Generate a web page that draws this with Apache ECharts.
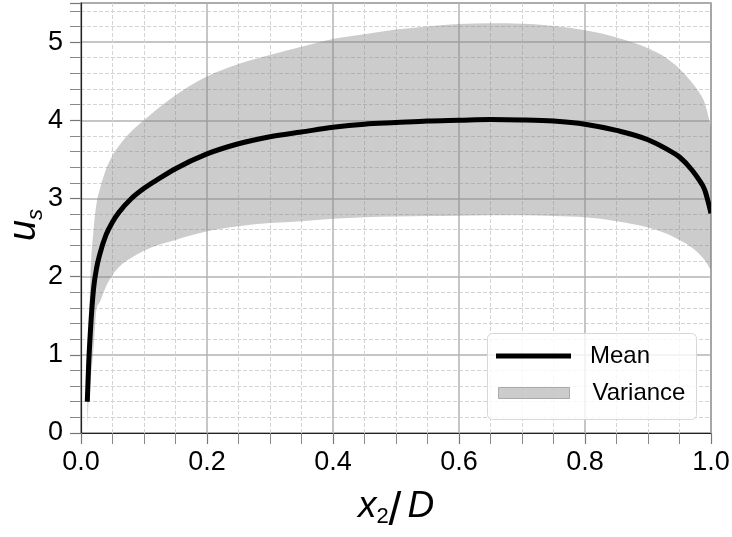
<!DOCTYPE html>
<html>
<head>
<meta charset="utf-8">
<script src="https://cdn.jsdelivr.net/npm/echarts@6/dist/echarts.min.js"></script>
<style>html,body{margin:0;padding:0;background:#fff;}#c{width:732px;height:537px;}</style>
</head>
<body>
<div id="c"></div>
<script>
// x2/D positions
const xs = [0.010,0.012,0.015,0.020,0.025,0.030,0.040,0.050,0.060,0.080,0.100,0.125,0.150,0.200,0.250,0.300,0.350,0.400,0.450,0.500,0.550,0.600,0.650,0.700,0.750,0.800,0.850,0.900,0.930,0.950,0.970,0.980,0.990,1.000];
// mean u_s
const meanVals = [0.40,0.85,1.31,1.85,2.12,2.29,2.54,2.70,2.82,3.00,3.13,3.26,3.38,3.57,3.70,3.79,3.85,3.91,3.95,3.97,3.99,4.00,4.01,4.005,3.99,3.95,3.87,3.75,3.63,3.53,3.36,3.25,3.11,2.81];
// variance band upper / lower edges
const upperVals = [0.70,1.20,2.00,2.60,2.95,3.12,3.38,3.55,3.67,3.86,4.00,4.17,4.32,4.56,4.72,4.835,4.94,5.04,5.10,5.16,5.20,5.23,5.24,5.235,5.205,5.15,5.06,4.92,4.79,4.66,4.48,4.37,4.22,3.90];
const lowerVals = [0.05,0.40,0.65,1.10,1.60,1.68,1.88,2.02,2.12,2.24,2.33,2.41,2.47,2.58,2.645,2.685,2.71,2.74,2.76,2.77,2.775,2.78,2.785,2.785,2.775,2.76,2.71,2.63,2.55,2.47,2.37,2.30,2.21,2.08];
const xTicks = [0.0,0.2,0.4,0.6,0.8,1.0];
const yTicks = [0,1,2,3,4,5];
const legendNames = ['Mean','Variance'];

const FONT = "'Liberation Sans', Arial, sans-serif";
const bandColor = 'rgba(128,128,128,0.4)';

// monotone cubic (pixel space) segments through points
function monoSegments(p) {
  const n = p.length, m = new Array(n);
  const h = [], s = [];
  for (let i = 0; i < n - 1; i++) { h[i] = p[i+1][0] - p[i][0]; s[i] = (p[i+1][1] - p[i][1]) / h[i]; }
  for (let i = 1; i < n - 1; i++) {
    const pp = (s[i-1] * h[i] + s[i] * h[i-1]) / (h[i-1] + h[i]);
    m[i] = (Math.sign(s[i-1]) + Math.sign(s[i])) * Math.min(Math.abs(s[i-1]), Math.abs(s[i]), 0.5 * Math.abs(pp)) || 0;
  }
  m[0] = (3 * s[0] - m[1]) / 2;
  m[n-1] = (3 * s[n-2] - m[n-2]) / 2;
  const segs = [];
  for (let i = 0; i < n - 1; i++) {
    const d = h[i] / 3;
    segs.push([p[i], [p[i][0] + d, p[i][1] + m[i] * d], [p[i+1][0] - d, p[i+1][1] - m[i+1] * d], p[i+1]]);
  }
  return segs;
}
const f = v => v.toFixed(2);

const chart = echarts.init(document.getElementById('c'), null, {renderer:'canvas'});
const bandData = xs.map((x,i) => [x, lowerVals[i], upperVals[i]]);
const meanData = xs.map((x,i) => [x, meanVals[i]]);
const option = {
  animation: false,
  backgroundColor: '#fff',
  grid: {left: 81, right: 21, top: 3, bottom: 104, show: true, borderColor: '#333', borderWidth: 1.2, outerBoundsMode: 'none', containLabel: false},
  xAxis: {
    type: 'value', min: xTicks[0], max: xTicks[xTicks.length-1], interval: 0.2,
    name: '{i|x}{sub|2}{n|/}{i|D}', nameLocation: 'middle', nameGap: 55, nameMoveOverlap: false,
    nameTextStyle: {rich: {
      i: {fontFamily: FONT, fontStyle: 'italic', fontSize: 37, color: '#000', verticalAlign: 'bottom', padding: [0,0,10,0]},
      sub: {fontFamily: FONT, fontSize: 22, color: '#000', verticalAlign: 'bottom', padding: [0,0,7,0]},
      n: {fontFamily: FONT, fontSize: 46, color: '#000', verticalAlign: 'bottom', padding: [0,6,0,0]}
    }},
    axisLine: {show: true, lineStyle: {color: '#222', width: 1.2}},
    axisTick: {show: true, inside: false, length: 11, lineStyle: {color: '#777', width: 1.2}},
    minorTick: {show: true, splitNumber: 4, length: 11, lineStyle: {color: '#888', width: 1}},
    axisLabel: {show: true, fontFamily: FONT, fontSize: 27, color: '#000', margin: 16, showMaxLabel: true, showMinLabel: true, formatter: v => v.toFixed(1)},
    splitLine: {show: true, lineStyle: {color: '#b3b3b3', width: 1.5}},
    minorSplitLine: {show: true, lineStyle: {color: '#d4d4d4', width: 1, type: [4,2]}}
  },
  yAxis: {
    type: 'value', min: 0, max: 5.5, interval: 1,
    name: '{u|u}{s|s}', nameLocation: 'middle', nameGap: 34, nameRotate: 90, nameMoveOverlap: false,
    nameTextStyle: {rich: {
      u: {fontFamily: FONT, fontStyle: 'italic', fontSize: 38, color: '#000', verticalAlign: 'bottom', padding: [0,0,4,0]},
      s: {fontFamily: FONT, fontStyle: 'italic', fontSize: 22, color: '#000', verticalAlign: 'bottom', padding: [0,14,0,0]}
    }},
    axisLine: {show: true, lineStyle: {color: '#222', width: 1.2}},
    axisTick: {show: true, inside: false, length: 11, lineStyle: {color: '#777', width: 1.2}},
    minorTick: {show: true, splitNumber: 5, length: 11, lineStyle: {color: '#888', width: 1}},
    axisLabel: {show: true, fontFamily: FONT, fontSize: 27, color: '#000', margin: 18, showMaxLabel: false, formatter: v => (yTicks.indexOf(v) >= 0 ? String(v) : '')},
    splitLine: {show: true, lineStyle: {color: '#b3b3b3', width: 1.5}},
    minorSplitLine: {show: true, lineStyle: {color: '#d4d4d4', width: 1, type: [4,2]}}
  },
  graphic: [{
    type: 'rect', left: 487, top: 333, z: 3,
    shape: {width: 209, height: 86, r: 5},
    style: {fill: 'rgba(255,255,255,0.8)', stroke: '#d8d8d8', lineWidth: 1}
  }],
  legend: [
    {data: [{name: legendNames[0], icon: 'rect', itemStyle: {color: '#000'}}], left: 496, top: 344, padding: 0,
     itemWidth: 75, itemHeight: 5, z: 5,
     textStyle: {fontFamily: FONT, fontSize: 24, color: '#000', padding: [0,0,0,14]}},
    {data: [{name: legendNames[1], icon: 'rect', itemStyle: {color: bandColor, borderColor: '#aaa', borderWidth: 1}}], left: 498, top: 381, padding: 0,
     itemWidth: 71, itemHeight: 11, z: 5,
     textStyle: {fontFamily: FONT, fontSize: 24, color: '#000', padding: [0,0,0,18]}}
  ],
  series: [
    {name: 'Variance', type: 'custom', silent: true, clip: true, z: 1,
     itemStyle: {color: bandColor},
     encode: {x: 0, y: [1, 2]},
     data: bandData,
     renderItem: function (params, api) {
       if (params.dataIndex !== 0) return null;
       const up = bandData.map(d => api.coord([d[0], d[2]]));
       const lo = bandData.map(d => api.coord([d[0], d[1]]));
       const su = monoSegments(up), sl = monoSegments(lo);
       let path = 'M' + f(up[0][0]) + ',' + f(up[0][1]);
       su.forEach(g => { path += 'C' + f(g[1][0]) + ',' + f(g[1][1]) + ' ' + f(g[2][0]) + ',' + f(g[2][1]) + ' ' + f(g[3][0]) + ',' + f(g[3][1]); });
       path += 'L' + f(lo[lo.length-1][0]) + ',' + f(lo[lo.length-1][1]);
       for (let k = sl.length - 1; k >= 0; k--) {
         const g = sl[k];
         path += 'C' + f(g[2][0]) + ',' + f(g[2][1]) + ' ' + f(g[1][0]) + ',' + f(g[1][1]) + ' ' + f(g[0][0]) + ',' + f(g[0][1]);
       }
       path += 'Z';
       return {type: 'path', shape: {pathData: path}, style: {fill: bandColor, stroke: null}};
     }},
    {name: 'Mean', type: 'custom', silent: true, clip: true, z: 2,
     itemStyle: {color: '#000'},
     encode: {x: 0, y: 1},
     data: meanData,
     renderItem: function (params, api) {
       if (params.dataIndex !== 0) return null;
       const pts = meanData.map(d => api.coord(d));
       const sg = monoSegments(pts);
       let path = 'M' + f(pts[0][0]) + ',' + f(pts[0][1]);
       sg.forEach(g => { path += 'C' + f(g[1][0]) + ',' + f(g[1][1]) + ' ' + f(g[2][0]) + ',' + f(g[2][1]) + ' ' + f(g[3][0]) + ',' + f(g[3][1]); });
       return {type: 'path', shape: {pathData: path}, style: {fill: null, stroke: '#000', lineWidth: 5, lineJoin: 'round'}};
     }}
  ]
};
chart.setOption(option);
</script>
</body>
</html>
